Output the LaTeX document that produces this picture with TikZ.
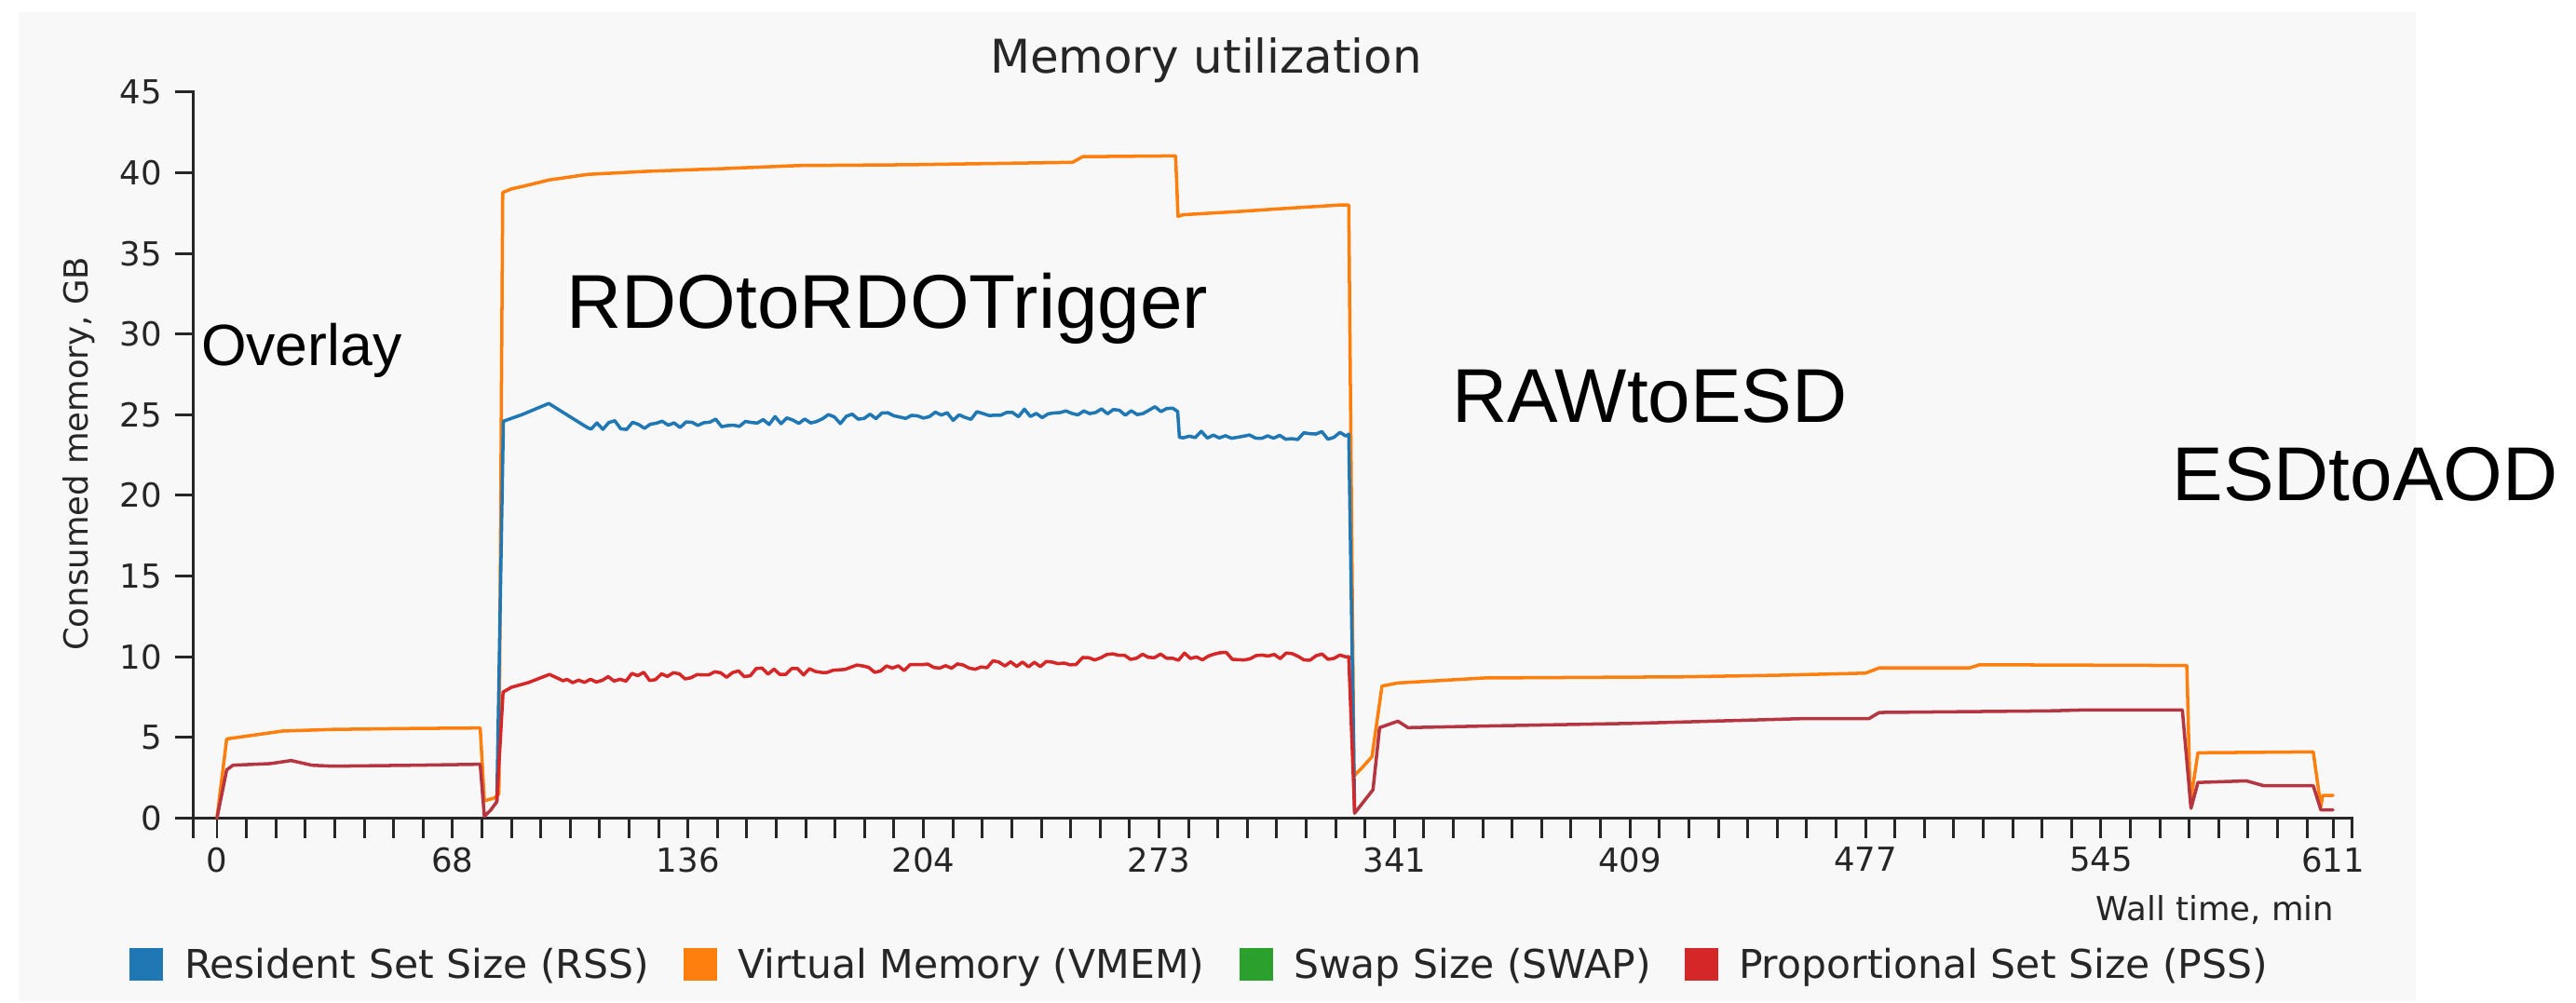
\documentclass[tikz,border=0pt]{standalone}
\usepackage{fontspec}
\setmainfont{DejaVu Sans}
\newfontfamily\stagefont{Liberation Sans}
\definecolor{panel}{RGB}{248,248,248}
\definecolor{rsscol}{HTML}{1F77B4}
\definecolor{vmemcol}{HTML}{FF7F0E}
\definecolor{swapcol}{HTML}{2CA02C}
\definecolor{psscol}{HTML}{D62728}
\colorlet{bothcol}{psscol!82!rsscol}
\colorlet{inkcol}{black!85}
\begin{document}
\begin{tikzpicture}[
  every node/.style={inner sep=0pt, outer sep=0pt},
  ticklabel/.style={font=\fontsize{10.1}{12}\selectfont, text=inkcol},
  axislabel/.style={font=\fontsize{10.1}{12}\selectfont, text=inkcol},
  titlelabel/.style={font=\fontsize{14.2}{17}\selectfont, text=inkcol},
  legendtext/.style={font=\fontsize{12.1}{14}\selectfont, text=inkcol, anchor=base west},
  legendbox/.style={minimum width=0.36cm, minimum height=0.35cm},
  stagelabel/.style={font=\stagefont\fontsize{23.3}{28}\selectfont, anchor=base west},
  axisline/.style={draw=inkcol, line width=0.85pt},
  series/.style={line width=1.0pt, line join=round, line cap=round},
  vmem/.style={series, draw=vmemcol},
  rss/.style={series, draw=rsscol},
  pss/.style={series, draw=psscol},
  both/.style={series, draw=bothcol},
  swapline/.style={series, draw=swapcol, opacity=0.6},
]
\useasboundingbox (0,0) rectangle (27.66,-10.77);
\fill[white] (0,0) rectangle (27.66,-10.77);
\fill[panel] (0.20,-0.13) rectangle (25.94,-10.75);

% title
\node[titlelabel, anchor=base] (title) at (12.95,-0.783) {Memory utilization};

% plot area: x in minutes, y in GB
\begin{scope}[shift={(2.33,-8.783)}, x=0.037185cm, y=0.17318cm]
  % swap size stays at zero
  \draw[swapline] (0,0) -- (611,0);

  % y axis with ticks and labels
  \draw[axisline] ([xshift=-0.2cm]-6.83,45) -- (-6.83,45) -- (-6.83,0) -- ([yshift=-0.22cm]-6.83,0);
  \foreach \v in {0,5,...,45} {
    \draw[axisline] (-6.83,\v) -- ([xshift=-0.2cm]-6.83,\v);
    \node[ticklabel, anchor=east] (yl\v) at ([xshift=-0.336cm]-6.83,\v) {\v};
  }
  % x axis with ticks and labels
  \draw[axisline] (-6.83,0) -- (616.4,0) -- ([yshift=-0.22cm]616.4,0);
  \foreach \k in {0,...,71}
    \draw[axisline] (8.5*\k,0) -- ([yshift=-0.22cm]8.5*\k,0);
  \draw[axisline] (611,0) -- ([yshift=-0.22cm]611,0);
  \foreach \t/\lab in {0/0,68/68,136/136,204/204,272/273,340/341,408/409,476/477,544/545,611/611}
    \node[ticklabel, anchor=north] (xl\lab) at ([yshift=-0.318cm]\t,0) {\lab};

  % virtual memory
  \draw[vmem] (0,0) -- (2.8,4.9) -- (9.4,5.1) -- (19,5.39) -- (33.4,5.49) -- (57,5.55) -- (76,5.58)
    -- (77.2,1.06) -- (80.2,1.25) -- (81.4,1.5) -- (82.5,38.78) -- (85,39.0) -- (88.5,39.17)
    -- (96,39.56) -- (107,39.9) -- (125,40.1) -- (145,40.25) -- (168,40.45) -- (200,40.5)
    -- (247,40.65) -- (250,41.0) -- (276.8,41.05) -- (277.5,37.3) -- (279,37.4) -- (295,37.6)
    -- (309,37.8) -- (324,38.0) -- (326.8,38.0) -- (328.3,2.6) -- (331,3.2) -- (333.5,3.8)
    -- (336.4,8.18) -- (341,8.37) -- (366,8.68) -- (423,8.75) -- (451,8.85) -- (476,8.98)
    -- (480,9.3) -- (506,9.3) -- (509,9.5) -- (568.8,9.45) -- (569.8,0.9) -- (572,4.04)
    -- (605.3,4.1) -- (607.5,0.7) -- (608,1.4) -- (611,1.4);

  \pgfmathsetseed{2718}
  % resident set size during the trigger step
  \draw[rss] (80.8,1.0) -- (82.7,24.6) -- (88,25.0) -- (95.8,25.7) -- (101,25.0) -- (107,24.2)
    -- plot[domain=108:276, samples=99] (\x,{24.3+0.0062*(\x-108)+0.3*rand})
    -- (277.4,25.2) -- (277.9,23.6)
    -- plot[domain=279:326, samples=28] (\x,{23.7+0.28*rand})
    -- (326.8,23.8) -- (328.5,0.3);

  % proportional set size during the trigger step
  \draw[pss] (80.8,1.0) -- (82.6,7.8) -- (85,8.1) -- (90,8.4) -- (96,8.9) -- (100,8.5)
    -- plot[domain=101:248, samples=87] (\x,{8.6+0.0075*(\x-101)+0.27*rand})
    -- plot[domain=250:326, samples=45] (\x,{10.0+0.27*rand})
    -- (326.8,10.0) -- (328.5,0.3);

  % RSS and PSS coincide in the other steps
  \draw[both] (0,0) -- (2.8,2.98) -- (4.6,3.27) -- (15.4,3.37) -- (21.4,3.56) -- (27.4,3.27)
    -- (33.4,3.21) -- (57.4,3.27) -- (76,3.33) -- (77.2,0.1) -- (79,0.48) -- (80.8,1.0);
  \draw[both] (328.5,0.3) -- (333.8,1.75) -- (335.7,5.6) -- (341,6.0) -- (343.9,5.6) -- (366,5.7)
    -- (410,5.87) -- (458,6.16) -- (477,6.16) -- (480,6.54) -- (529,6.64) -- (540,6.7)
    -- (567.5,6.7) -- (570,0.6) -- (572,2.2) -- (586,2.3) -- (591,2.0) -- (605.3,2.0)
    -- (607.5,0.5) -- (611,0.5);
\end{scope}

% axis titles
\node[axislabel, rotate=90, anchor=base] (ylabel) at (0.94,-4.875) {Consumed memory, GB};
\node[axislabel, anchor=base east] (xlabel) at (25.06,-9.88) {Wall time, min};

% legend
\node[legendbox, fill=rsscol] (sqrss) at (1.57,-10.355) {};
\node[legendtext] (lgrss) at (1.98,-10.50) {Resident Set Size (RSS)};
\node[legendbox, fill=vmemcol] (sqvmem) at (7.515,-10.355) {};
\node[legendtext] (lgvmem) at (7.92,-10.50) {Virtual Memory (VMEM)};
\node[legendbox, fill=swapcol] (sqswap) at (13.485,-10.355) {};
\node[legendtext] (lgswap) at (13.89,-10.50) {Swap Size (SWAP)};
\node[legendbox, fill=psscol] (sqpss) at (18.265,-10.355) {};
\node[legendtext] (lgpss) at (18.67,-10.50) {Proportional Set Size (PSS)};

% workflow step names
\node[stagelabel, font=\stagefont\fontsize{17.8}{21}\selectfont] (overlay) at (2.16,-3.92) {Overlay};
\node[stagelabel] (rdotrig) at (6.085,-3.52) {RDOtoRDOTrigger};
\node[stagelabel] (rawesd) at (15.59,-4.536) {RAWtoESD};
\node[stagelabel] (esdaod) at (23.325,-5.37) {ESDtoAOD};
\end{tikzpicture}
\end{document}
